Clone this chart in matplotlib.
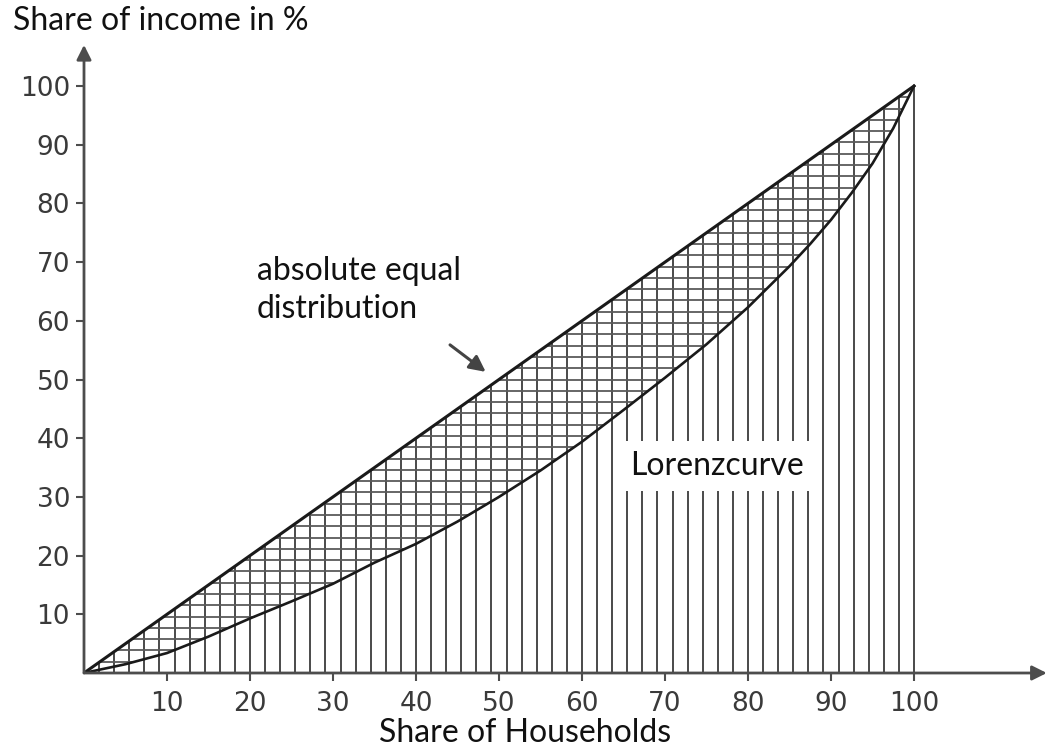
import matplotlib.pyplot as plt
import numpy as np

# share of households (x) and share of income (y)
households = [0, 5, 10, 15, 20, 25, 30, 35, 40, 45, 50, 55, 60, 65, 70, 75, 80, 85, 87.5, 90, 92.5, 95, 97.5, 100]
lorenz_income = [0, 1.5, 3.4, 6.2, 9.3, 12.2, 15.2, 18.8, 22, 25.8, 30, 34.5, 39.4, 44.8, 50.3, 56, 62.3, 69.3, 73.1, 77.2, 81.8, 86.8, 92.8, 100]
equal_x = [0, 100]
equal_y = [0, 100]

x_ticks = [10, 20, 30, 40, 50, 60, 70, 80, 90, 100]
y_ticks = [10, 20, 30, 40, 50, 60, 70, 80, 90, 100]

W, H = 1049, 749
fig = plt.figure(figsize=(W / 100, H / 100), dpi=100)
# origin at pixel (84, 673), 8.3 px per unit in x, 5.87 px per unit in y
x0, y0 = 84, 673
sx, sy = 8.3, 5.87
xmax, ymax = 116, 108
ax = fig.add_axes([x0 / W, (H - y0) / H, xmax * sx / W, ymax * sy / H])
ax.set_xlim(0, xmax)
ax.set_ylim(0, ymax)
for s in ax.spines.values():
    s.set_visible(False)

hatch_col = "#4a4a4a"
axis_col = "#4d4d4d"

# vertical hatching under the equality line
vx = np.arange(1, 56) * 100 / 55
ax.vlines(vx, 0, np.interp(vx, equal_x, equal_y), color=hatch_col, lw=1.4, zorder=1)

# horizontal hatching between the two curves
hy = np.arange(1, 52) * 100 / 52
x_left = np.interp(hy, equal_y, equal_x)
x_right = np.interp(hy, lorenz_income, households)
ax.hlines(hy, x_left, x_right, color="#5a5a5a", lw=1.3, zorder=1)

ax.plot(equal_x, equal_y, color="#1a1a1a", lw=2.2, zorder=3)
ax.plot(households, lorenz_income, color="#1a1a1a", lw=1.9, zorder=3)

# axes with arrows
ax.annotate("", xy=(0, 107), xytext=(0, 0),
            arrowprops=dict(arrowstyle="-|>", color=axis_col, lw=2, mutation_scale=22,
                            shrinkA=0, shrinkB=0), annotation_clip=False)
ax.annotate("", xy=(116, 0), xytext=(0, 0),
            arrowprops=dict(arrowstyle="-|>", color=axis_col, lw=2, mutation_scale=22,
                            shrinkA=0, shrinkB=0), annotation_clip=False)

ax.set_xticks(x_ticks)
ax.set_yticks(y_ticks)
ax.tick_params(axis="both", direction="out", length=6, width=1.5, color=axis_col,
               labelsize=19, labelcolor="#3a3a3a")
ax.tick_params(axis="x", pad=7)
ax.tick_params(axis="y", pad=4)
for lab in ax.get_xticklabels() + ax.get_yticklabels():
    lab.set_fontfamily("DejaVu Sans")

txt = dict(family="Lato", color="#111111", fontsize=23)
fig.text(13 / W, 1 - 21 / H, "Share of income in %", ha="left", va="center", **txt)
fig.text(525 / W, 1 - 733 / H, "Share of Households", ha="center", va="center", **txt)
ax.text((257 - x0) / sx, (y0 - 290) / sy, "absolute equal\ndistribution", ha="left",
        va="center", linespacing=1.3, zorder=5, **txt)
ax.text((630 - x0) / sx, (y0 - 466) / sy, "Lorenzcurve", ha="left", va="center", zorder=5,
        bbox=dict(facecolor="white", edgecolor="none", pad=7), **txt)

# arrow pointing at the equality line
ax.annotate("", xy=(48.4, 51.3), xytext=(44.1, 55.9),
            arrowprops=dict(arrowstyle="-|>", color="#444444", lw=2.2, mutation_scale=24,
                            shrinkA=0, shrinkB=0), zorder=5)

fig.savefig("out.png", dpi=100)
